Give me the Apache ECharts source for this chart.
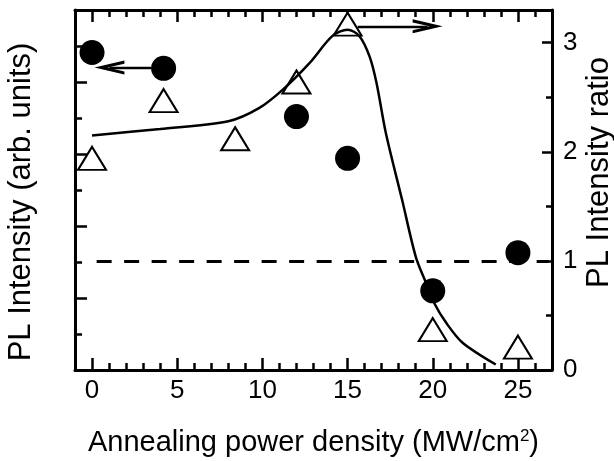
<!DOCTYPE html>
<html><head><meta charset="utf-8">
<script src="https://cdn.jsdelivr.net/npm/echarts@6/dist/echarts.min.js"></script>
<style>html,body{margin:0;padding:0;background:#fff}#c{width:614px;height:461px}</style>
</head><body><div id="c"></div>
<script>
// ---- data ----
const powerCircle = [0, 4.2, 12, 15, 20, 25];
const plIntensity = [4.41, 4.19, 3.52, 2.94, 1.10, 1.63];
const powerTriangle = [0, 4.2, 8.4, 12, 15, 20, 25];
const plRatio = [1.94, 2.47, 2.12, 2.64, 3.17, 0.37, 0.21];
const fitX = [0, 4, 8, 9.8, 11.2, 12.75, 14.1, 15, 15.7, 16.3, 16.7, 17.25, 18.2, 19, 19.6, 20.1, 20.8, 21.75, 23.7];
const fitY = [2.15, 2.21, 2.28, 2.40, 2.57, 2.81, 3.06, 3.12, 3.06, 2.87, 2.63, 2.17, 1.56, 1.04, 0.80, 0.61, 0.43, 0.25, 0.05];
const xMajorTicks = [0, 5, 10, 15, 20, 25];
const xMinorTicks = [0,1,2,3,4,5,6,7,8,9,10,11,12,13,14,15,16,17,18,19,20,21,22,23,24,25,26];
const ratioTicks = [0, 1, 2, 3];
const ratioMinorTicks = [0.5, 1.5, 2.5];
const refRatio = 1;
const refLineX = [0.27, 26.8];
const leftArrowX = [3.46, 1.02];
const leftArrowY = 4.2;
const rightArrowX = [15.59, 19.70];
const rightArrowY = 3.15;

// ---- chart ----
const F = "'Liberation Sans', Arial, Helvetica, sans-serif";
const black = '#000';
const axisLine = {show: true, onZero: false, lineStyle: {color: black, width: 3}};
const noLine = {show: false, onZero: false};
const tickStyle = {color: black, width: 2.5};
const arrowPath = 'path://M50,0 L100,100 L78,100 L50,44 L22,100 L0,100 Z';

function pairs(xs, ys) { return xs.map((x, i) => [x, ys[i]]); }

const chart = echarts.init(document.getElementById('c'), null, {renderer: 'canvas'});
chart.setOption({
  animation: false,
  backgroundColor: '#fff',
  grid: {left: 75, right: 62, top: 10, bottom: 91, containLabel: false, outerBoundsMode: 'none'},
  xAxis: [
    {type: 'value', position: 'bottom', min: -1, max: 27, axisLine: axisLine,
     axisTick: {show: true, inside: true, length: 12, lineStyle: tickStyle, customValues: xMajorTicks},
     axisLabel: {show: true, customValues: xMajorTicks, color: black, fontSize: 26, fontFamily: F, margin: 8},
     splitLine: {show: false},
     name: 'Annealing power density (MW/cm{sup|2})', nameLocation: 'middle', nameGap: 58, nameMoveOverlap: false,
     nameTextStyle: {color: black, fontSize: 29, fontFamily: F,
       rich: {sup: {fontSize: 17, fontFamily: F, color: black, verticalAlign: 'top'}}}},
    {type: 'value', position: 'bottom', min: -1, max: 27, axisLine: noLine,
     axisTick: {show: true, inside: true, length: 7, lineStyle: tickStyle, customValues: xMinorTicks},
     axisLabel: {show: false}, splitLine: {show: false}},
    {type: 'value', position: 'top', min: -1, max: 27, axisLine: axisLine,
     axisTick: {show: true, inside: true, length: 12, lineStyle: tickStyle, customValues: xMajorTicks},
     axisLabel: {show: false}, splitLine: {show: false}},
    {type: 'value', position: 'top', min: -1, max: 27, axisLine: noLine,
     axisTick: {show: true, inside: true, length: 7, lineStyle: tickStyle, customValues: xMinorTicks},
     axisLabel: {show: false}, splitLine: {show: false}}
  ],
  yAxis: [
    {type: 'value', position: 'left', min: 0, max: 5, interval: 1, axisLine: axisLine,
     axisTick: {show: true, inside: true, length: 12, lineStyle: tickStyle},
     minorTick: {show: true, splitNumber: 2, length: 7, lineStyle: tickStyle},
     axisLabel: {show: false}, splitLine: {show: false}, minorSplitLine: {show: false},
     name: 'PL Intensity (arb. units)', nameLocation: 'middle', nameGap: 38, nameMoveOverlap: false,
     nameTextStyle: {color: black, fontSize: 31, fontFamily: F, padding: [0, 24, 0, 0]}},
    {type: 'value', position: 'right', min: 0, max: 3.3, axisLine: axisLine,
     axisTick: {show: true, inside: true, length: 10, lineStyle: tickStyle, customValues: ratioTicks},
     axisLabel: {show: true, customValues: ratioTicks, color: black, fontSize: 26, fontFamily: F, margin: 11},
     splitLine: {show: false},
     name: 'PL Intensity ratio', nameLocation: 'middle', nameGap: 32, nameMoveOverlap: false,
     nameTextStyle: {color: black, fontSize: 31, fontFamily: F, padding: [0, 0, 0, 35]}},
    {type: 'value', position: 'right', min: 0, max: 3.3, axisLine: noLine,
     axisTick: {show: true, inside: true, length: 6, lineStyle: tickStyle, customValues: ratioMinorTicks},
     axisLabel: {show: false}, splitLine: {show: false}}
  ],
  series: [
    {name: 'PL intensity ratio', type: 'scatter', xAxisIndex: 0, yAxisIndex: 1,
     data: pairs(powerTriangle, plRatio), symbol: 'triangle', symbolSize: [28, 23],
     itemStyle: {color: '#fff', borderColor: black, borderWidth: 2, opacity: 1},
     emphasis: {disabled: true},
     markLine: {silent: true, symbol: ['none', 'none'], label: {show: false},
       lineStyle: {color: black, width: 3, type: [15, 12.5]},
       data: [[{coord: [refLineX[0], refRatio]}, {coord: [refLineX[1], refRatio]}]]}},
    {name: 'fit', type: 'line', xAxisIndex: 0, yAxisIndex: 1,
     data: pairs(fitX, fitY), smooth: 0.3, showSymbol: false, symbol: 'none',
     lineStyle: {color: black, width: 2.5, opacity: 1},
     emphasis: {disabled: true},
     markLine: {silent: true, symbol: ['none', arrowPath], label: {show: false},
       lineStyle: {color: black, width: 2.3, type: 'solid'},
       data: [[{coord: [rightArrowX[0], rightArrowY]}, {coord: [rightArrowX[1], rightArrowY], symbolSize: [14, 30]}]]}},
    {name: 'PL intensity', type: 'scatter', xAxisIndex: 0, yAxisIndex: 0,
     data: pairs(powerCircle, plIntensity), symbol: 'circle', symbolSize: 25,
     itemStyle: {color: black, opacity: 1},
     emphasis: {disabled: true},
     markLine: {silent: true, symbol: ['none', arrowPath], label: {show: false},
       lineStyle: {color: black, width: 2.3, type: 'solid'},
       data: [[{coord: [leftArrowX[0], leftArrowY]}, {coord: [leftArrowX[1], leftArrowY], symbolSize: [14, 30]}]]}}
  ]
});
</script>
</body></html>
